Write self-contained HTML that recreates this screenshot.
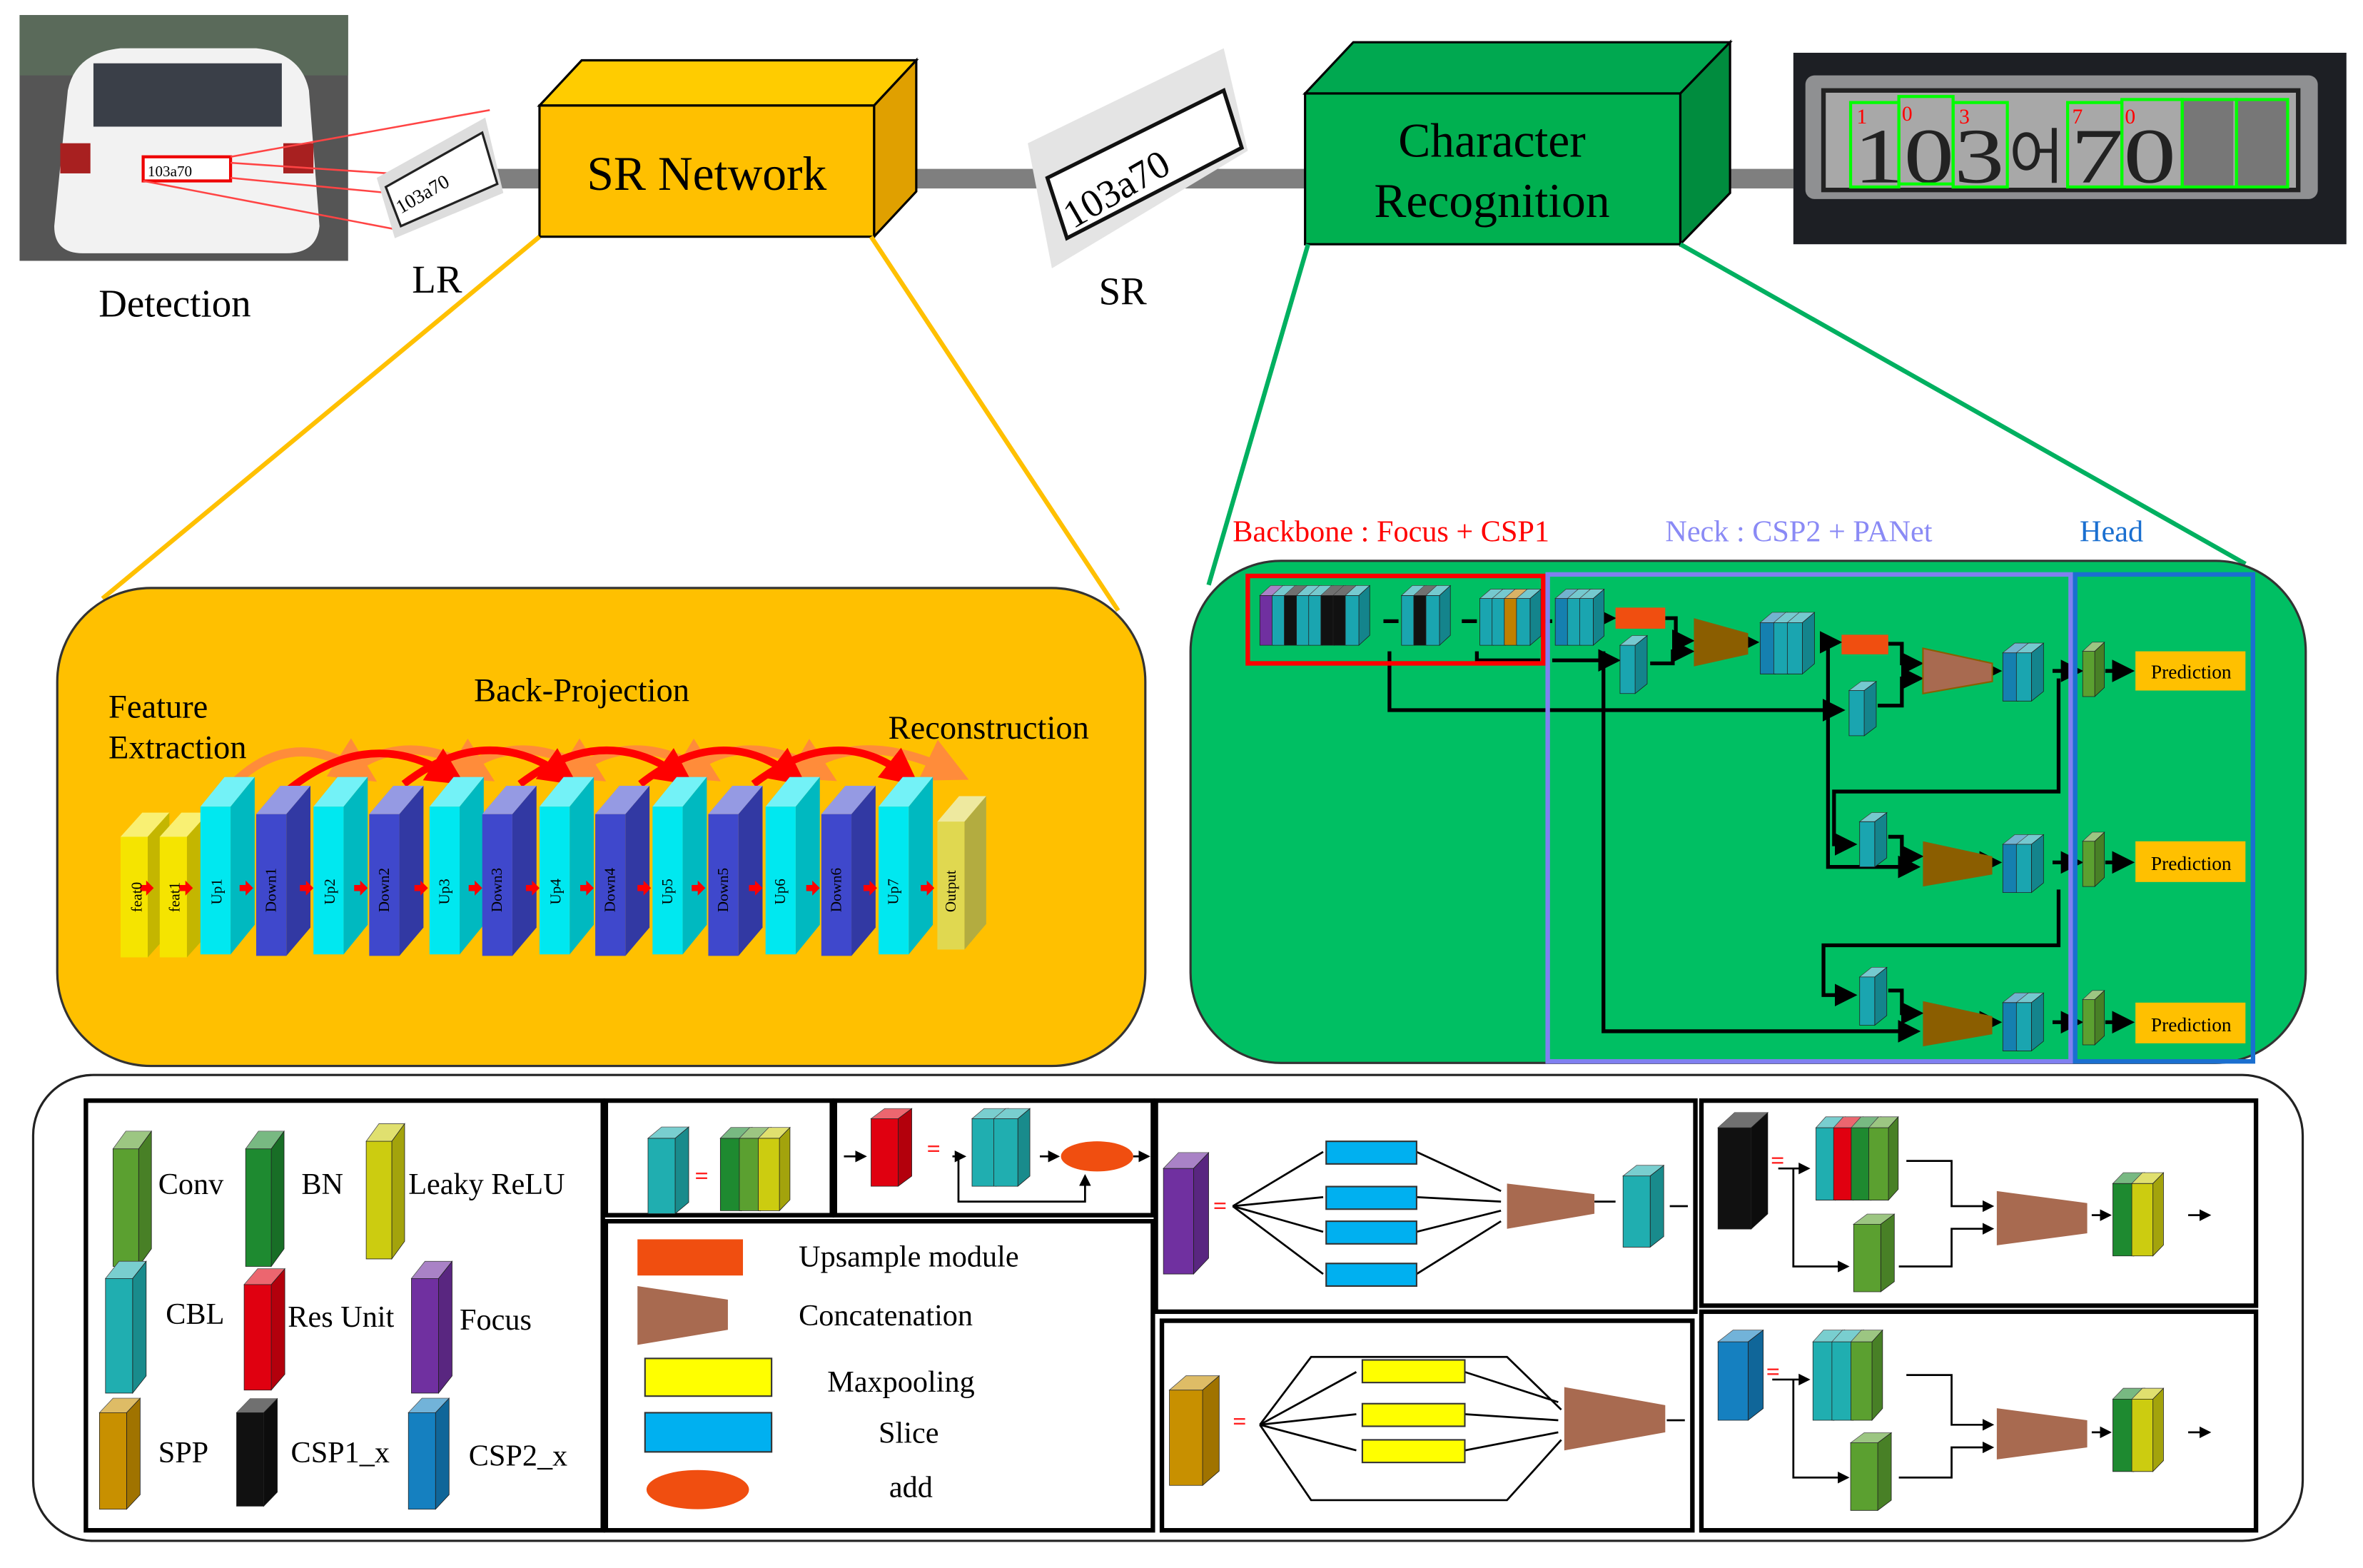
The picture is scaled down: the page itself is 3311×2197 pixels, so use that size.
<!DOCTYPE html>
<html><head><meta charset="utf-8"><style>
html,body{margin:0;padding:0;background:#fff;}
svg{display:block;}
text{font-family:"Liberation Serif",serif;}
</style></head><body>
<svg width="3311" height="2197" viewBox="0 0 1568 1040" preserveAspectRatio="none" xmlns="http://www.w3.org/2000/svg" xmlns:xlink="http://www.w3.org/1999/xlink">
<defs>
<marker id="ar" markerWidth="6" markerHeight="6" refX="5" refY="3" orient="auto"><path d="M0,0L6,3L0,6z" fill="#000"/></marker>
<marker id="ra" markerWidth="5" markerHeight="5" refX="3" refY="2.5" orient="auto"><path d="M0,0L5,2.5L0,5z" fill="#f00"/></marker>
<marker id="oa" markerWidth="5" markerHeight="5" refX="3" refY="2.5" orient="auto"><path d="M0,0L5,2.5L0,5z" fill="#FF8C3A"/></marker>
<g id="T">
<polygon points="0,0 8,-8 18,-8 10,0" fill="currentColor"/>
<polygon points="0,0 8,-8 18,-8 10,0" fill="#fff" fill-opacity="0.45"/>
<polygon points="10,0 18,-8 18,32 10,40" fill="currentColor"/>
<polygon points="10,0 18,-8 18,32 10,40" fill="#000" fill-opacity="0.2"/>
<rect x="0" y="0" width="10" height="40" fill="currentColor"/>
</g>
<g id="S">
<polygon points="0,0 8,-8 18,-8 10,0" fill="currentColor" stroke="#222" stroke-width="0.8" vector-effect="non-scaling-stroke"/>
<polygon points="0,0 8,-8 18,-8 10,0" fill="#fff" fill-opacity="0.4"/>
<polygon points="10,0 18,-8 18,32 10,40" fill="currentColor" stroke="#222" stroke-width="0.8" vector-effect="non-scaling-stroke"/>
<polygon points="10,0 18,-8 18,32 10,40" fill="#000" fill-opacity="0.2"/>
<rect x="0" y="0" width="10" height="40" fill="currentColor" stroke="#222" stroke-width="0.8" vector-effect="non-scaling-stroke"/>
</g>
<g id="L">
<polygon points="0,0 5,-6 15,-6 10,0" fill="currentColor" stroke="#222" stroke-width="0.8" vector-effect="non-scaling-stroke"/>
<polygon points="0,0 5,-6 15,-6 10,0" fill="#fff" fill-opacity="0.4"/>
<polygon points="10,0 15,-6 15,34 10,40" fill="currentColor" stroke="#222" stroke-width="0.8" vector-effect="non-scaling-stroke"/>
<polygon points="10,0 15,-6 15,34 10,40" fill="#000" fill-opacity="0.2"/>
<rect x="0" y="0" width="10" height="40" fill="currentColor" stroke="#222" stroke-width="0.8" vector-effect="non-scaling-stroke"/>
</g>
</defs>
<rect width="1568" height="1040" fill="#fff"/>
<rect x="330" y="112" width="860" height="13" fill="#7f7f7f"/>
<!-- car photo -->
<rect x="13" y="10" width="218" height="163" fill="#555"/>
<rect x="13" y="10" width="218" height="40" fill="#5a6a5a"/>
<path d="M45,60 Q50,35 80,32 L170,32 Q200,35 205,60 L212,150 Q210,168 190,168 L55,168 Q36,168 36,150 Z" fill="#f2f2f2"/>
<rect x="62" y="42" width="125" height="42" fill="#3a3f48"/>
<rect x="40" y="95" width="20" height="20" fill="#a82020"/><rect x="188" y="95" width="20" height="20" fill="#a82020"/>
<rect x="95" y="104" width="58" height="16" fill="#fff" stroke="#e00" stroke-width="2"/>
<text x="98" y="117" font-size="10">103a70</text>
<g stroke="#f44" stroke-width="1.2"><line x1="153" y1="104" x2="325" y2="73"/><line x1="153" y1="108" x2="258" y2="115"/><line x1="153" y1="118" x2="258" y2="128"/><line x1="95" y1="120" x2="262" y2="152"/></g>
<polygon points="250,118 322,78 334,128 262,158" fill="#ddd"/>
<polygon points="256,124 320,88 330,122 266,150" fill="#fff" stroke="#222" stroke-width="1.5"/>
<text x="266" y="142" font-size="13" transform="rotate(-30 266 142)">103a70</text>
<!-- SR network box -->
<polygon points="358,70 386,40 608,40 580,70" fill="#FFCC00" stroke="#000" stroke-width="1.5"/>
<polygon points="580,70 608,40 608,127 580,157" fill="#E0A000" stroke="#000" stroke-width="1.5"/>
<rect x="358" y="70" width="222" height="87" fill="#FFC000" stroke="#000" stroke-width="1.5"/>
<text x="469" y="126" font-size="32" text-anchor="middle">SR Network</text>
<polygon points="682,95 812,32 828,100 698,178" fill="#e4e4e4"/>
<polygon points="695,118 812,60 824,98 708,158" fill="#fff" stroke="#111" stroke-width="2.5"/>
<text x="712" y="152" font-size="26" transform="rotate(-30 712 152)">103a70</text>
<!-- CR box -->
<polygon points="866,62 898,28 1148,28 1115,62" fill="#00A850" stroke="#000" stroke-width="1.5"/>
<polygon points="1115,62 1148,28 1148,128 1115,162" fill="#008C3E" stroke="#000" stroke-width="1.5"/>
<rect x="866" y="62" width="249" height="100" fill="#00B050" stroke="#000" stroke-width="1.5"/>
<text x="990" y="104" font-size="32" text-anchor="middle">Character</text>
<text x="990" y="144" font-size="32" text-anchor="middle">Recognition</text>
<!-- recognized plate -->
<rect x="1190" y="35" width="367" height="127" fill="#1d1f24"/>
<rect x="1198" y="50" width="340" height="82" fill="#8f9092" rx="6"/>
<rect x="1210" y="60" width="315" height="66" fill="#a8a8a8" stroke="#222" stroke-width="3"/>
<text x="1230" y="121" font-size="52" font-family="Liberation Sans" fill="#222" textLength="100" lengthAdjust="spacingAndGlyphs">103</text>
<text x="1333" y="118" font-size="40" font-family="Noto Sans CJK KR, sans-serif" fill="#222">어</text>
<text x="1374" y="121" font-size="52" font-family="Liberation Sans" fill="#222" textLength="70" lengthAdjust="spacingAndGlyphs">70</text>
<rect x="1448" y="66" width="34" height="58" fill="#777"/><rect x="1484" y="66" width="34" height="58" fill="#777"/>
<g fill="none" stroke="#0f0" stroke-width="2"><rect x="1228" y="68" width="32" height="56"/><rect x="1260" y="64" width="36" height="58"/><rect x="1296" y="68" width="36" height="56"/><rect x="1372" y="68" width="36" height="56"/><rect x="1408" y="66" width="40" height="58"/><rect x="1448" y="66" width="36" height="58"/><rect x="1484" y="66" width="34" height="58"/></g>
<g fill="#f00" font-size="14" font-family="Liberation Sans"><text x="1232" y="82">1</text><text x="1262" y="80">0</text><text x="1300" y="82">3</text><text x="1375" y="82">7</text><text x="1410" y="82">0</text></g>
<text x="116" y="210" font-size="26" text-anchor="middle">Detection</text>
<text x="290" y="194" font-size="26" text-anchor="middle">LR</text>
<text x="745" y="202" font-size="26" text-anchor="middle">SR</text>
<g stroke="#FFC000" stroke-width="3"><line x1="358" y1="157" x2="68" y2="397"/><line x1="578" y1="157" x2="742" y2="405"/></g>
<g stroke="#00B060" stroke-width="3"><line x1="868" y1="162" x2="802" y2="388"/><line x1="1115" y1="162" x2="1490" y2="374"/></g>
<!-- yellow panel -->
<rect x="38" y="390" width="722" height="317" rx="62" fill="#FFC000" stroke="#333" stroke-width="1.5"/>
<text x="72" y="476" font-size="22">Feature</text>
<text x="72" y="503" font-size="22">Extraction</text>
<text x="386" y="465" font-size="22" text-anchor="middle">Back-Projection</text>
<text x="656" y="490" font-size="22" text-anchor="middle">Reconstruction</text>
<g fill="none">
<path d="M150,525 Q190,480 240,512" stroke="#FF8C3A" stroke-width="6" marker-end="url(#oa)"/>
<path d="M225,518 Q265,480 318,512" stroke="#FF8C3A" stroke-width="6" marker-end="url(#oa)"/>
<path d="M300,518 Q340,480 392,512" stroke="#FF8C3A" stroke-width="6" marker-end="url(#oa)"/>
<path d="M375,518 Q415,480 468,512" stroke="#FF8C3A" stroke-width="6" marker-end="url(#oa)"/>
<path d="M450,518 Q490,480 545,512" stroke="#FF8C3A" stroke-width="6" marker-end="url(#oa)"/>
<path d="M525,518 Q565,480 632,512" stroke="#FF8C3A" stroke-width="6" marker-end="url(#oa)"/>
<path d="M190,525 Q245,480 300,515" stroke="#f00" stroke-width="5" marker-end="url(#ra)"/>
<path d="M268,520 Q322,478 375,515" stroke="#f00" stroke-width="5" marker-end="url(#ra)"/>
<path d="M345,520 Q400,478 452,515" stroke="#f00" stroke-width="5" marker-end="url(#ra)"/>
<path d="M425,520 Q478,478 527,515" stroke="#f00" stroke-width="5" marker-end="url(#ra)"/>
<path d="M500,520 Q555,478 602,515" stroke="#f00" stroke-width="5" marker-end="url(#ra)"/>
</g>
<use xlink:href="#T" color="#F5E400" transform="translate(80,555) scale(1.8,2)"/>
<use xlink:href="#T" color="#F5E400" transform="translate(106,555) scale(1.8,2)"/>
<use xlink:href="#T" color="#00E8F0" transform="translate(133,535) scale(2,2.45)"/>
<use xlink:href="#T" color="#3F48CC" transform="translate(170,540) scale(2,2.35)"/>
<use xlink:href="#T" color="#00E8F0" transform="translate(208,535) scale(2,2.45)"/>
<use xlink:href="#T" color="#3F48CC" transform="translate(245,540) scale(2,2.35)"/>
<use xlink:href="#T" color="#00E8F0" transform="translate(285,535) scale(2,2.45)"/>
<use xlink:href="#T" color="#3F48CC" transform="translate(320,540) scale(2,2.35)"/>
<use xlink:href="#T" color="#00E8F0" transform="translate(358,535) scale(2,2.45)"/>
<use xlink:href="#T" color="#3F48CC" transform="translate(395,540) scale(2,2.35)"/>
<use xlink:href="#T" color="#00E8F0" transform="translate(433,535) scale(2,2.45)"/>
<use xlink:href="#T" color="#3F48CC" transform="translate(470,540) scale(2,2.35)"/>
<use xlink:href="#T" color="#00E8F0" transform="translate(508,535) scale(2,2.45)"/>
<use xlink:href="#T" color="#3F48CC" transform="translate(545,540) scale(2,2.35)"/>
<use xlink:href="#T" color="#00E8F0" transform="translate(583,535) scale(2,2.45)"/>
<use xlink:href="#T" color="#E0D850" transform="translate(622,545) scale(1.8,2.12)"/>
<g fill="#f00">
<path d="M93,587 h4 v-3 l5,5 l-5,5 v-3 h-4z"/><path d="M119,587 h4 v-3 l5,5 l-5,5 v-3 h-4z"/>
<path d="M159,587 h4 v-3 l5,5 l-5,5 v-3 h-4z"/><path d="M199,587 h4 v-3 l5,5 l-5,5 v-3 h-4z"/>
<path d="M235,587 h4 v-3 l5,5 l-5,5 v-3 h-4z"/><path d="M275,587 h4 v-3 l5,5 l-5,5 v-3 h-4z"/>
<path d="M311,587 h4 v-3 l5,5 l-5,5 v-3 h-4z"/><path d="M349,587 h4 v-3 l5,5 l-5,5 v-3 h-4z"/>
<path d="M385,587 h4 v-3 l5,5 l-5,5 v-3 h-4z"/><path d="M423,587 h4 v-3 l5,5 l-5,5 v-3 h-4z"/>
<path d="M459,587 h4 v-3 l5,5 l-5,5 v-3 h-4z"/><path d="M497,587 h4 v-3 l5,5 l-5,5 v-3 h-4z"/>
<path d="M535,587 h4 v-3 l5,5 l-5,5 v-3 h-4z"/><path d="M573,587 h4 v-3 l5,5 l-5,5 v-3 h-4z"/>
<path d="M611,587 h4 v-3 l5,5 l-5,5 v-3 h-4z"/>
</g>
<g font-size="10">
<text transform="translate(94,605) rotate(-90)">feat0</text>
<text transform="translate(119,605) rotate(-90)">feat1</text>
<text transform="translate(147,600) rotate(-90)">Up1</text>
<text transform="translate(183,605) rotate(-90)">Down1</text>
<text transform="translate(222,600) rotate(-90)">Up2</text>
<text transform="translate(258,605) rotate(-90)">Down2</text>
<text transform="translate(298,600) rotate(-90)">Up3</text>
<text transform="translate(333,605) rotate(-90)">Down3</text>
<text transform="translate(372,600) rotate(-90)">Up4</text>
<text transform="translate(408,605) rotate(-90)">Down4</text>
<text transform="translate(446,600) rotate(-90)">Up5</text>
<text transform="translate(483,605) rotate(-90)">Down5</text>
<text transform="translate(521,600) rotate(-90)">Up6</text>
<text transform="translate(558,605) rotate(-90)">Down6</text>
<text transform="translate(596,600) rotate(-90)">Up7</text>
<text transform="translate(634,605) rotate(-90)">Output</text>
</g>
<!-- green panel -->
<rect x="790" y="372" width="740" height="333" rx="60" fill="#00BF63" stroke="#333" stroke-width="1.5"/>
<text x="818" y="359" font-size="20" fill="#f00">Backbone : Focus + CSP1</text>
<text x="1105" y="359" font-size="20" fill="#8a8af5">Neck : CSP2 + PANet</text>
<text x="1380" y="359" font-size="20" fill="#1a6fd0">Head</text>
<g stroke="#000" stroke-width="2.5" fill="none">
<path d="M922,432 V471 H1222" marker-end="url(#ar)"/>
<path d="M980,432 V438 H1022"/>
<path d="M918,412 H928 M970,412 H980 M1022,412 H1030"/>
<path d="M1030,438 H1073" marker-end="url(#ar)"/>
<path d="M1064,432 V684 H1272" marker-end="url(#ar)"/>
<path d="M1062,410 H1070" marker-end="url(#ar)"/>
<path d="M1105,410 H1112 V425 H1122" marker-end="url(#ar)"/>
<path d="M1095,440 H1110 V432 H1122" marker-end="url(#ar)"/>
<path d="M1160,426 H1165" marker-end="url(#ar)"/>
<path d="M1212,426 H1220" marker-end="url(#ar)"/>
<path d="M1253,427 H1262 V440 H1274" marker-end="url(#ar)"/>
<path d="M1246,468 H1262 V450 H1274" marker-end="url(#ar)"/>
<path d="M1213,430 V575 H1272" marker-end="url(#ar)"/>
<path d="M1366,450 V525 H1217 V560 H1230" marker-end="url(#ar)"/>
<path d="M1253,555 H1262 V568 H1274" marker-end="url(#ar)"/>
<path d="M1366,590 V627 H1210 V660 H1230" marker-end="url(#ar)"/>
<path d="M1253,657 H1262 V672 H1274" marker-end="url(#ar)"/>
<path d="M1322,445 H1326" marker-end="url(#ar)"/>
<path d="M1322,572 H1326" marker-end="url(#ar)"/>
<path d="M1322,678 H1326" marker-end="url(#ar)"/>
<path d="M1362,445 H1380" marker-end="url(#ar)"/>
<path d="M1362,572 H1380" marker-end="url(#ar)"/>
<path d="M1362,678 H1380" marker-end="url(#ar)"/>
<path d="M1397,445 H1414" marker-end="url(#ar)"/>
<path d="M1397,572 H1414" marker-end="url(#ar)"/>
<path d="M1397,678 H1414" marker-end="url(#ar)"/>
</g>
<rect x="1072" y="403" width="33" height="14" fill="#F04E10"/>
<rect x="1222" y="421" width="31" height="13" fill="#F04E10"/>
<polygon points="1124,410 1160,420 1160,434 1124,442" fill="#8B5E00"/>
<polygon points="1276,430 1322,440 1322,452 1276,460" fill="#A86A50" stroke="#8B5E00"/>
<polygon points="1276,558 1322,568 1322,580 1276,588" fill="#8B5E00"/>
<polygon points="1276,664 1322,674 1322,686 1276,694" fill="#8B5E00"/>
<use xlink:href="#S" color="#7030A0" transform="translate(836,395) scale(0.9,0.825)"/>
<use xlink:href="#S" color="#1AA5B0" transform="translate(844.1,395) scale(0.9,0.825)"/>
<use xlink:href="#S" color="#111111" transform="translate(852.2,395) scale(0.9,0.825)"/>
<use xlink:href="#S" color="#1AA5B0" transform="translate(860.3,395) scale(0.9,0.825)"/>
<use xlink:href="#S" color="#1AA5B0" transform="translate(868.4,395) scale(0.9,0.825)"/>
<use xlink:href="#S" color="#111111" transform="translate(876.5,395) scale(0.9,0.825)"/>
<use xlink:href="#S" color="#111111" transform="translate(884.6,395) scale(0.9,0.825)"/>
<use xlink:href="#S" color="#1AA5B0" transform="translate(892.7,395) scale(0.9,0.825)"/>
<use xlink:href="#S" color="#1AA5B0" transform="translate(930,395) scale(0.9,0.825)"/>
<use xlink:href="#S" color="#111111" transform="translate(938.1,395) scale(0.9,0.825)"/>
<use xlink:href="#S" color="#1AA5B0" transform="translate(946.2,395) scale(0.9,0.825)"/>
<use xlink:href="#S" color="#1AA5B0" transform="translate(982,397) scale(0.9,0.775)"/>
<use xlink:href="#S" color="#1AA5B0" transform="translate(990.1,397) scale(0.9,0.775)"/>
<use xlink:href="#S" color="#C08000" transform="translate(998.2,397) scale(0.9,0.775)"/>
<use xlink:href="#S" color="#1AA5B0" transform="translate(1006.3,397) scale(0.9,0.775)"/>
<use xlink:href="#S" color="#1580B0" transform="translate(1032,397) scale(0.9,0.775)"/>
<use xlink:href="#S" color="#1AA5B0" transform="translate(1040.1,397) scale(0.9,0.775)"/>
<use xlink:href="#S" color="#1AA5B0" transform="translate(1048.2,397) scale(0.9,0.775)"/>
<use xlink:href="#S" color="#1AA5B0" transform="translate(1075,428) scale(1,0.8)"/>
<use xlink:href="#S" color="#1580B0" transform="translate(1168,413) scale(1,0.85)"/>
<use xlink:href="#S" color="#1AA5B0" transform="translate(1177,413) scale(1,0.85)"/>
<use xlink:href="#S" color="#1AA5B0" transform="translate(1186,413) scale(1,0.85)"/>
<use xlink:href="#S" color="#1AA5B0" transform="translate(1227,458) scale(1,0.75)"/>
<use xlink:href="#S" color="#1580B0" transform="translate(1329,433) scale(1,0.8)"/>
<use xlink:href="#S" color="#1AA5B0" transform="translate(1338,433) scale(1,0.8)"/>
<use xlink:href="#S" color="#5BA030" transform="translate(1382,432) scale(0.8,0.75)"/>
<use xlink:href="#S" color="#1AA5B0" transform="translate(1234,545) scale(1,0.75)"/>
<use xlink:href="#S" color="#1580B0" transform="translate(1329,560) scale(1,0.8)"/>
<use xlink:href="#S" color="#1AA5B0" transform="translate(1338,560) scale(1,0.8)"/>
<use xlink:href="#S" color="#5BA030" transform="translate(1382,558) scale(0.8,0.75)"/>
<use xlink:href="#S" color="#1AA5B0" transform="translate(1234,648) scale(1,0.8)"/>
<use xlink:href="#S" color="#1580B0" transform="translate(1329,665) scale(1,0.8)"/>
<use xlink:href="#S" color="#1AA5B0" transform="translate(1338,665) scale(1,0.8)"/>
<use xlink:href="#S" color="#5BA030" transform="translate(1382,663) scale(0.8,0.75)"/>
<rect x="828" y="382" width="196" height="58" fill="none" stroke="#f00" stroke-width="3"/>
<rect x="1027" y="381" width="347" height="323" fill="none" stroke="#8080F0" stroke-width="3"/>
<rect x="1377" y="381" width="118" height="323" fill="none" stroke="#1a6fd0" stroke-width="3"/>
<g font-size="13">
<rect x="1417" y="432" width="73" height="26" fill="#FFC000"/><text x="1454" y="450" text-anchor="middle">Prediction</text>
<rect x="1417" y="558" width="73" height="27" fill="#FFC000"/><text x="1454" y="577" text-anchor="middle">Prediction</text>
<rect x="1417" y="665" width="73" height="27" fill="#FFC000"/><text x="1454" y="684" text-anchor="middle">Prediction</text>
</g>
<!-- bottom panel -->
<rect x="22" y="713" width="1506" height="309" rx="40" fill="#fff" stroke="#222" stroke-width="1.5"/>
<g fill="none" stroke="#000" stroke-width="3">
<rect x="57" y="730" width="343" height="285"/>
<rect x="402" y="730" width="150" height="76"/>
<rect x="554" y="730" width="211" height="76"/>
<rect x="402" y="810" width="363" height="205"/>
<rect x="767" y="730" width="358" height="140"/>
<rect x="1129" y="730" width="368" height="136"/>
<rect x="771" y="876" width="352" height="139"/>
<rect x="1129" y="870" width="368" height="145"/>
</g>
<g font-size="20">
<text x="105" y="792">Conv</text><text x="200" y="792">BN</text><text x="271" y="792">Leaky ReLU</text>
<text x="110" y="878">CBL</text><text x="191" y="880">Res Unit</text><text x="305" y="882">Focus</text>
<text x="105" y="970">SPP</text><text x="193" y="970">CSP1_x</text><text x="311" y="972">CSP2_x</text>
<text x="530" y="840">Upsample module</text><text x="530" y="879">Concatenation</text>
<text x="549" y="923">Maxpooling</text><text x="583" y="957">Slice</text><text x="590" y="993">add</text>
</g>
<rect x="423" y="822" width="70" height="24" fill="#F04E10"/>
<polygon points="423,853 483,862 483,882 423,892" fill="#A86A50"/>
<rect x="428" y="901" width="84" height="25" fill="#ffff00" stroke="#333"/>
<rect x="428" y="937" width="84" height="26" fill="#00B0F0" stroke="#333"/>
<ellipse cx="463" cy="988" rx="34" ry="13" fill="#F04E10"/>
<ellipse cx="728" cy="767" rx="24" ry="10" fill="#F04E10"/>
<g stroke="#000" stroke-width="1.3" fill="none">
<path d="M560,767 H574" marker-end="url(#ar)"/><path d="M632,767 H640" marker-end="url(#ar)"/>
<path d="M690,767 H702" marker-end="url(#ar)"/><path d="M752,767 H762" marker-end="url(#ar)"/>
<path d="M636,767 V797 H720 V780" marker-end="url(#ar)"/>
<path d="M818,800 L878,764 M818,800 L878,794 M818,800 L878,817 M818,800 L878,845 M940,764 L996,790 M940,794 L996,797 M940,817 L996,803 M940,845 L996,810 M1058,797 L1072,797 M1108,800 L1120,800"/>
<path d="M1180,775 H1200" marker-end="url(#ar)"/><path d="M1190,775 V840 H1226" marker-end="url(#ar)"/>
<path d="M1265,770 H1295 V800 H1322" marker-end="url(#ar)"/><path d="M1260,840 H1295 V815 H1322" marker-end="url(#ar)"/>
<path d="M1388,806 H1400" marker-end="url(#ar)"/><path d="M1452,806 H1466" marker-end="url(#ar)"/>
<path d="M836,945 L870,900 H1000 L1036,935 M836,945 L900,910 M836,945 L900,938 M836,945 L900,962 M836,945 L870,995 H1000 L1036,955 M972,910 L1034,930 M972,938 L1034,942 M972,962 L1034,950 M1106,942 L1118,942"/>
<path d="M1176,915 H1200" marker-end="url(#ar)"/><path d="M1190,915 V980 H1226" marker-end="url(#ar)"/>
<path d="M1265,912 H1295 V945 H1322" marker-end="url(#ar)"/><path d="M1260,980 H1295 V960 H1322" marker-end="url(#ar)"/>
<path d="M1388,950 H1400" marker-end="url(#ar)"/><path d="M1452,950 H1466" marker-end="url(#ar)"/>
</g>
<g fill="#00B0F0" stroke="#333"><rect x="880" y="757" width="60" height="15"/><rect x="880" y="787" width="60" height="15"/><rect x="880" y="810" width="60" height="15"/><rect x="880" y="838" width="60" height="15"/></g>
<g fill="#ffff00" stroke="#333"><rect x="904" y="902" width="68" height="15"/><rect x="904" y="931" width="68" height="15"/><rect x="904" y="955" width="68" height="15"/></g>
<polygon points="1000,785 1058,792 1058,805 1000,815" fill="#A86A50"/>
<polygon points="1325,790 1385,798 1385,818 1325,826" fill="#A86A50"/>
<polygon points="1038,920 1105,932 1105,950 1038,962" fill="#A86A50"/>
<polygon points="1325,934 1385,942 1385,960 1325,968" fill="#A86A50"/>
<!-- legend blocks -->
<use xlink:href="#L" color="#5BA030" transform="translate(75,762) scale(1.7,1.95)"/>
<use xlink:href="#L" color="#1E8A30" transform="translate(163,762) scale(1.7,1.95)"/>
<use xlink:href="#L" color="#CCCC10" transform="translate(243,757) scale(1.7,1.95)"/>
<use xlink:href="#L" color="#20AEB0" transform="translate(70,848) scale(1.8,1.9)"/>
<use xlink:href="#L" color="#E00010" transform="translate(162,852) scale(1.8,1.75)"/>
<use xlink:href="#L" color="#7030A0" transform="translate(273,848) scale(1.8,1.9)"/>
<use xlink:href="#L" color="#C89000" transform="translate(66,937) scale(1.8,1.6)"/>
<use xlink:href="#L" color="#111111" transform="translate(157,937) scale(1.8,1.55)"/>
<use xlink:href="#L" color="#1580C0" transform="translate(271,937) scale(1.8,1.6)"/>
<use xlink:href="#L" color="#20AEB0" transform="translate(430,755) scale(1.8,1.25)"/>
<use xlink:href="#L" color="#1E8A30" transform="translate(478,755) scale(1.4,1.2)"/>
<use xlink:href="#L" color="#5BA030" transform="translate(490.6,755) scale(1.4,1.2)"/>
<use xlink:href="#L" color="#CCCC10" transform="translate(503.2,755) scale(1.4,1.2)"/>
<use xlink:href="#L" color="#E00010" transform="translate(578,742) scale(1.8,1.12)"/>
<use xlink:href="#L" color="#20AEB0" transform="translate(645,742) scale(1.6,1.12)"/>
<use xlink:href="#L" color="#20AEB0" transform="translate(659.4,742) scale(1.6,1.12)"/>
<use xlink:href="#L" color="#7030A0" transform="translate(772,775) scale(2,1.75)"/>
<use xlink:href="#L" color="#20AEB0" transform="translate(1077,780) scale(1.8,1.18)"/>
<use xlink:href="#L" color="#111111" transform="translate(1140,748) scale(2.2,1.68)"/>
<use xlink:href="#L" color="#20AEB0" transform="translate(1205,748) scale(1.3,1.2)"/>
<use xlink:href="#L" color="#E00010" transform="translate(1216.7,748) scale(1.3,1.2)"/>
<use xlink:href="#L" color="#1E8A30" transform="translate(1228.4,748) scale(1.3,1.2)"/>
<use xlink:href="#L" color="#5BA030" transform="translate(1240.1,748) scale(1.3,1.2)"/>
<use xlink:href="#L" color="#5BA030" transform="translate(1230,812) scale(1.8,1.12)"/>
<use xlink:href="#L" color="#1E8A30" transform="translate(1402,785) scale(1.4,1.2)"/>
<use xlink:href="#L" color="#CCCC10" transform="translate(1414.6,785) scale(1.4,1.2)"/>
<use xlink:href="#L" color="#C89000" transform="translate(776,922) scale(2.2,1.58)"/>
<use xlink:href="#L" color="#1580C0" transform="translate(1140,890) scale(2,1.3)"/>
<use xlink:href="#L" color="#20AEB0" transform="translate(1203,890) scale(1.4,1.3)"/>
<use xlink:href="#L" color="#20AEB0" transform="translate(1215.6,890) scale(1.4,1.3)"/>
<use xlink:href="#L" color="#5BA030" transform="translate(1228.2,890) scale(1.4,1.3)"/>
<use xlink:href="#L" color="#5BA030" transform="translate(1228,957) scale(1.8,1.12)"/>
<use xlink:href="#L" color="#1E8A30" transform="translate(1402,928) scale(1.4,1.2)"/>
<use xlink:href="#L" color="#CCCC10" transform="translate(1414.6,928) scale(1.4,1.2)"/>
<g fill="#f22" font-size="16" font-family="Liberation Sans" font-weight="bold"><text x="461" y="785">=</text><text x="615" y="767">=</text><text x="805" y="805">=</text><text x="1175" y="775">=</text><text x="818" y="948">=</text><text x="1172" y="915">=</text></g>
</svg>
</body></html>
